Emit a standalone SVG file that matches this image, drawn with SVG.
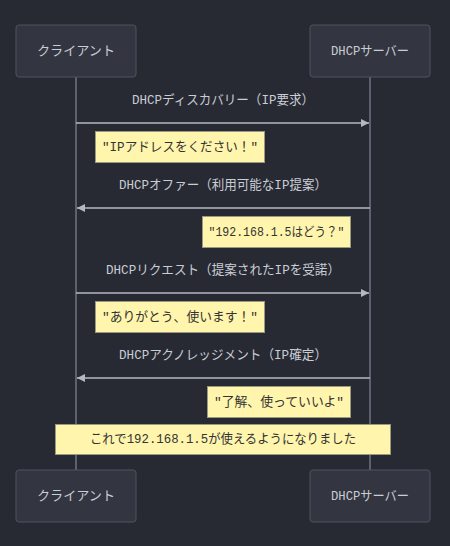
<svg xmlns="http://www.w3.org/2000/svg" width="450" height="546" viewBox="0 0 450 546">
<style>
.actor{fill:#333640;stroke:#4d5260;stroke-width:1}
.atext{fill:#c9cdd6;font-family:"Liberation Mono","Noto Sans CJK JP",monospace;font-size:13px;text-anchor:middle;dominant-baseline:central}
.life{stroke:#5c6170;stroke-width:2}
.msg{stroke:#b4b8c2;stroke-width:1.5;fill:none}
.mtext{fill:#c9cdd6;font-family:"Liberation Mono","Noto Sans CJK JP",monospace;font-size:13px;text-anchor:middle;dominant-baseline:central}
.note{fill:#fff5ad;stroke:#9a9a80;stroke-width:1}
.ntext{fill:#333333;font-family:"Liberation Mono","Noto Sans CJK JP",monospace;font-size:13px;text-anchor:middle;dominant-baseline:central}
</style>
<defs>
<marker id="ah" viewBox="0 0 10 10" refX="10" refY="5" markerWidth="8" markerHeight="8" markerUnits="userSpaceOnUse" orient="auto">
<path d="M0,0 L10,5 L0,10 Z" fill="#b4b8c2"/>
</marker>
</defs>
<rect width="450" height="546" fill="#282a33"/>
<g id="lifelines">
<line class="life" x1="76" y1="77" x2="76" y2="470"/>
<line class="life" x1="370" y1="77" x2="370" y2="470"/>
</g>
<g id="client-top"><rect class="actor" x="16" y="25" width="120" height="52" rx="3"/><text class="atext" x="76" y="51" textLength="78" lengthAdjust="spacingAndGlyphs">クライアント</text></g>
<g id="server-top"><rect class="actor" x="310" y="25" width="120" height="52" rx="3"/><text class="atext" x="370" y="51" textLength="78" lengthAdjust="spacingAndGlyphs">DHCPサーバー</text></g>
<g id="client-bottom"><rect class="actor" x="16" y="470" width="120" height="52" rx="3"/><text class="atext" x="76" y="496" textLength="78" lengthAdjust="spacingAndGlyphs">クライアント</text></g>
<g id="server-bottom"><rect class="actor" x="310" y="470" width="120" height="52" rx="3"/><text class="atext" x="370" y="496" textLength="78" lengthAdjust="spacingAndGlyphs">DHCPサーバー</text></g>
<g id="connectors">
<text class="mtext" x="223" y="100" textLength="182" lengthAdjust="spacingAndGlyphs">DHCPディスカバリー（IP要求）</text>
<line class="msg" x1="76" y1="123" x2="369" y2="123" marker-end="url(#ah)"/>
<text class="mtext" x="223" y="185" textLength="208" lengthAdjust="spacingAndGlyphs">DHCPオファー（利用可能なIP提案）</text>
<line class="msg" x1="370" y1="208" x2="77" y2="208" marker-end="url(#ah)"/>
<text class="mtext" x="223" y="270" textLength="234" lengthAdjust="spacingAndGlyphs">DHCPリクエスト（提案されたIPを受諾）</text>
<line class="msg" x1="76" y1="293" x2="369" y2="293" marker-end="url(#ah)"/>
<text class="mtext" x="223" y="355" textLength="208" lengthAdjust="spacingAndGlyphs">DHCPアクノレッジメント（IP確定）</text>
<line class="msg" x1="370" y1="378" x2="77" y2="378" marker-end="url(#ah)"/>
</g>
<g id="note1"><rect class="note" x="95.5" y="131.5" width="169" height="31"/><text class="ntext" x="180" y="147" textLength="156" lengthAdjust="spacingAndGlyphs">"IPアドレスをください！"</text></g>
<g id="note2"><rect class="note" x="202.5" y="216.5" width="148" height="31"/><text class="ntext" x="276.5" y="232" textLength="136" lengthAdjust="spacingAndGlyphs">"192.168.1.5はどう？"</text></g>
<g id="note3"><rect class="note" x="95.5" y="301.5" width="169" height="31"/><text class="ntext" x="180" y="317" textLength="156" lengthAdjust="spacingAndGlyphs">"ありがとう、使います！"</text></g>
<g id="note4"><rect class="note" x="207.5" y="386.5" width="143" height="31"/><text class="ntext" x="279" y="402" textLength="130" lengthAdjust="spacingAndGlyphs">"了解、使っていいよ"</text></g>
<g id="note5"><rect class="note" x="55.5" y="424.5" width="335" height="30"/><text class="ntext" x="223" y="439.5" textLength="266" lengthAdjust="spacingAndGlyphs">これで192.168.1.5が使えるようになりました</text></g>
</svg>
